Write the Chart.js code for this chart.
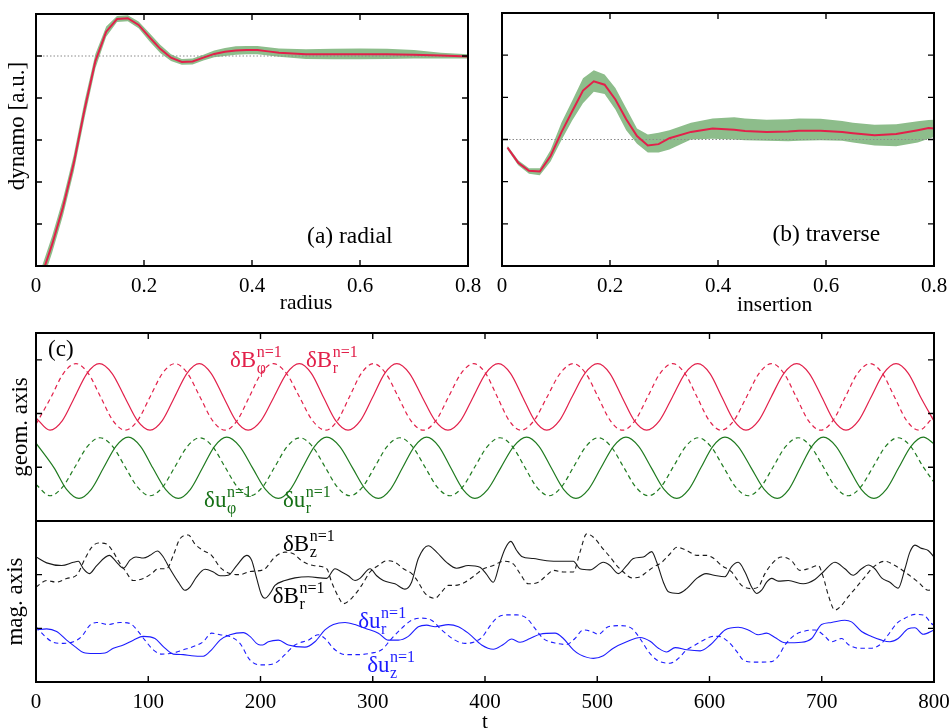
<!DOCTYPE html>
<html><head><meta charset="utf-8">
<script src="https://cdn.jsdelivr.net/npm/chart.js@4.4.1/dist/chart.umd.min.js"></script>
<style>
html,body{margin:0;padding:0;background:#fff;}
#wrap{position:relative;width:951px;height:728px;overflow:hidden;background:#fff;}
canvas{position:absolute;}
</style></head><body>
<div id="wrap">
<canvas id="cA" width="500" height="320" style="left:0;top:0"></canvas>
<canvas id="cB" width="471" height="320" style="left:480px;top:0"></canvas>
<canvas id="cC" width="951" height="408" style="left:0;top:320px"></canvas>
</div>
<script>
// ---------------- data: panel (a) radial ----------------
const radA   = [0.01,0.03,0.05,0.07,0.09,0.11,0.13,0.15,0.17,0.19,0.21,0.23,0.25,0.27,0.29,0.31,0.33,0.35,0.37,0.39,0.41,0.43,0.45,0.50,0.55,0.60,0.65,0.70,0.75,0.80];
const dynA   = [-0.25,0.52,1.40,2.45,3.73,4.88,5.58,5.88,5.90,5.74,5.45,5.17,4.96,4.86,4.87,4.96,5.05,5.10,5.13,5.14,5.14,5.11,5.08,5.04,5.04,5.04,5.04,5.03,5.01,4.99];
const dynAHi = [-0.05,0.72,1.60,2.65,3.93,5.05,5.70,5.95,5.97,5.82,5.55,5.27,5.04,4.93,4.94,5.03,5.13,5.19,5.23,5.24,5.24,5.21,5.18,5.16,5.17,5.18,5.17,5.14,5.08,5.04];
const dynALo = [-0.45,0.32,1.20,2.25,3.53,4.71,5.46,5.81,5.83,5.66,5.35,5.07,4.88,4.79,4.80,4.89,4.97,5.00,5.03,5.04,5.04,5.01,4.98,4.93,4.92,4.92,4.93,4.94,4.94,4.94];
const refXA = [0, 0.8];
const refYA = [5, 5];

// ---------------- data: panel (b) traverse ----------------
const radB   = [0.01,0.03,0.05,0.07,0.09,0.11,0.13,0.15,0.17,0.19,0.21,0.23,0.25,0.27,0.29,0.31,0.35,0.39,0.43,0.45,0.49,0.53,0.55,0.59,0.63,0.65,0.69,0.73,0.77,0.79,0.80];
const dynB   = [2.81,2.45,2.26,2.24,2.61,3.17,3.67,4.16,4.38,4.30,3.95,3.48,3.08,2.86,2.89,3.03,3.18,3.26,3.23,3.20,3.18,3.19,3.21,3.21,3.18,3.15,3.10,3.13,3.22,3.27,3.26];
const dynBHi = [2.86,2.51,2.32,2.32,2.75,3.40,3.92,4.45,4.64,4.54,4.22,3.74,3.26,3.12,3.16,3.22,3.40,3.50,3.53,3.50,3.47,3.48,3.50,3.49,3.44,3.40,3.35,3.36,3.43,3.46,3.47];
const dynBLo = [2.76,2.39,2.19,2.15,2.48,2.98,3.45,3.86,4.13,4.08,3.71,3.22,2.90,2.69,2.69,2.76,3.00,3.02,3.00,2.98,2.97,2.96,2.97,2.98,2.97,2.93,2.86,2.84,2.93,3.02,3.06];
const refXB = [0, 0.8];
const refYB = [3, 3];

// ---------------- data: panel (c) geom. axis ----------------
const tBr = [0,12.5,23.5,34.5,45.5,56.4,67.7,79,90.3,101.6,112.5,123.5,134.5,145.5,156,167,178,189,200.5,212,223.3,234.6,245.3,256,267,278,289,300,310.7,321.4,332.7,344,355.5,367,378.3,389.5,400.7,411.9,422.7,433.5,444.3,455,466.3,477.5,489,500.4,511.2,522,533,544,555.5,567,578.3,589.5,600.3,611,621.8,632.5,643.8,655,666.3,677.7,688.8,700,710.8,721.6,732.8,744,755.1,766.2,777.1,788,800];
const vBr = [1.92,
 1.69,1.87,2.31,2.75,2.93,2.75,2.31,1.87, 1.69,1.87,2.31,2.75,2.93,2.75,2.31,1.87,
 1.69,1.87,2.31,2.75,2.93,2.75,2.31,1.87, 1.69,1.87,2.31,2.75,2.93,2.75,2.31,1.87,
 1.69,1.87,2.31,2.75,2.93,2.75,2.31,1.87, 1.69,1.87,2.31,2.75,2.93,2.75,2.31,1.87,
 1.69,1.87,2.31,2.75,2.93,2.75,2.31,1.87, 1.69,1.87,2.31,2.75,2.93,2.75,2.31,1.87,
 1.69,1.87,2.31,2.75,2.93,2.75,2.31, 1.86];
const tBphi = [0,13.5,24.5,35.6,46.5,57.5,68.5,79.5,90.5,101.6,112.7,123.8,134.9,146.1,157.3,168.5,179.2,190,200.7,211.4,223,234.7,246.3,258,268.6,279.2,289.9,300.5,311.6,322.7,333.9,345,356.3,367.5,378.8,390,400.5,411,421.5,432,443.7,455.3,467,478.7,489.7,500.7,511.6,522.5,533.7,544.9,556,567.2,578,588.9,599.7,610.5,621.7,633,644.2,655.4,666.3,677.2,688.1,699,710,721,732,743,753.9,764.8,775.6,786.5,800];
const vBphi = [1.80,
 2.31,2.75,2.93,2.75,2.31,1.87,1.69,1.87, 2.31,2.75,2.93,2.75,2.31,1.87,1.69,1.87,
 2.31,2.75,2.93,2.75,2.31,1.87,1.69,1.87, 2.31,2.75,2.93,2.75,2.31,1.87,1.69,1.87,
 2.31,2.75,2.93,2.75,2.31,1.87,1.69,1.87, 2.31,2.75,2.93,2.75,2.31,1.87,1.69,1.87,
 2.31,2.75,2.93,2.75,2.31,1.87,1.69,1.87, 2.31,2.75,2.93,2.75,2.31,1.87,1.69,1.87,
 2.31,2.75,2.93,2.75,2.31,1.87,1.69, 1.95];
const tUr = [0,16.1,27.2,38.3,49.3,60.2,71.2,82.2,93.1,104,115.4,126.8,137.6,148.4,159.1,169.9,181.4,192.9,204.4,215.9,226.7,237.4,248.2,259,270.5,282,293.5,305,315.8,326.5,337.3,348,358.8,369.5,380.3,391,402.5,414,425.6,437.1,448.1,459,470,481,492.2,503.3,514.5,525.6,536.9,548.2,559.5,570.8,581.6,592.3,603,613.8,625.4,637.1,648.7,660.4,670.7,680.9,691.2,701.4,712.7,724,735.2,746.5,757.5,768.5,779.5,790.5,800];
const vUr = [1.45,0.99,0.59,
 0.42,0.59,0.99,1.39,1.56,1.39,0.99,0.59, 0.42,0.59,0.99,1.39,1.56,1.39,0.99,0.59,
 0.42,0.59,0.99,1.39,1.56,1.39,0.99,0.59, 0.42,0.59,0.99,1.39,1.56,1.39,0.99,0.59,
 0.42,0.59,0.99,1.39,1.56,1.39,0.99,0.59, 0.42,0.59,0.99,1.39,1.56,1.39,0.99,0.59,
 0.42,0.59,0.99,1.39,1.56,1.39,0.99,0.59, 0.42,0.59,0.99,1.39,1.56,1.39,0.99,0.59,
 0.42,0.59,0.99,1.39,1.56, 1.44];
const tUphi = [0,12.5,23.6,34.8,45.9,57,68.2,79.3,90.5,101.6,112.7,123.8,134.9,146,157.2,168.3,179.5,190.6,201.7,212.8,223.9,235,246.2,257.4,268.5,279.7,290.8,301.9,312.9,324,335.2,346.4,357.5,368.7,379.9,391,402.2,413.4,424.3,435.2,446.1,457,468,479,490,501,512.1,523.3,534.4,545.5,556.6,567.8,578.9,590,601.1,612.3,623.4,634.5,645.6,656.8,667.9,679,690.1,701.3,712.4,723.5,734.6,745.8,756.9,768,779.1,790.3,800];
const vUphi = [0.68,
 0.47,0.63,1.01,1.39,1.55,1.39,1.01,0.63, 0.47,0.63,1.01,1.39,1.55,1.39,1.01,0.63,
 0.47,0.63,1.01,1.39,1.55,1.39,1.01,0.63, 0.47,0.63,1.01,1.39,1.55,1.39,1.01,0.63,
 0.47,0.63,1.01,1.39,1.55,1.39,1.01,0.63, 0.47,0.63,1.01,1.39,1.55,1.39,1.01,0.63,
 0.47,0.63,1.01,1.39,1.55,1.39,1.01,0.63, 0.47,0.63,1.01,1.39,1.55,1.39,1.01,0.63,
 0.47,0.63,1.01,1.39,1.55,1.39,1.01, 0.72];

// ---------------- data: panel (c) mag. axis ----------------
const tBrM = [0,9.5,22.9,33.3,37.7,42.2,47.5,54.1,65.3,71.9,77.8,83.7,89.1,95.6,101.6,108.1,113.4,119.3,126.8,132.7,137.2,143.1,150.6,158,163.9,171.3,178.8,187.7,192.1,196.6,201,204,208.5,212.9,221.8,230.7,242.6,258.9,266.4,272.3,278.2,284.2,288.6,297.6,303.5,309.4,319.8,328.7,334.6,340.6,349.5,356.9,365.8,374.7,385.1,395.5,400.9,407.4,413.4,417.8,422.9,428.2,432.7,443.1,455,469.8,478.7,484.6,493.5,505.4,511.4,518.8,526.2,532.2,541.1,548.5,553,558.9,563.4,572.3,579.7,588.6,597,604,613.8,619.7,625.6,631.6,637.5,642,646.4,650.9,655.3,661.3,670.2,683.5,693.9,701.3,711.7,720.6,728,735.5,741.4,747.3,753.3,760.7,768.1,774.1,778.5,783,788.9,794.8,800];
const vBrM = [2.33,2.22,2.17,2.23,2.25,2.11,2.02,2.17,2.36,2.23,2.12,2.27,2.33,2.31,2.36,2.44,2.33,2.11,1.86,1.71,1.77,1.96,2.10,2.05,1.98,1.99,2.17,2.36,2.27,1.93,1.62,1.56,1.65,1.80,1.89,1.94,1.96,1.93,2.11,2.05,1.98,1.89,1.93,2.11,1.98,1.89,1.83,1.73,1.86,2.30,2.54,2.42,2.23,2.12,2.17,2.14,2.02,1.86,2.23,2.48,2.62,2.45,2.34,2.30,2.26,2.25,2.25,2.11,2.09,2.23,2.17,2.02,2.17,2.30,2.33,2.43,2.23,1.86,1.68,1.65,1.74,1.93,2.02,1.99,1.96,2.15,2.23,2.05,1.77,1.65,1.71,1.86,1.93,1.88,1.89,1.83,1.91,2.05,2.23,2.11,1.99,2.11,2.18,2.11,1.94,1.86,1.75,2.11,2.42,2.55,2.49,2.45,2.33];
const tBzM = [0,9.5,18.4,27.3,36.2,43.7,49.6,55.5,62.9,68.9,73.3,79.3,86.7,95.6,103,108.9,116.4,122.3,128.3,135.7,141.6,149,156.4,163.9,172.8,181.7,190.6,202.5,212.9,221.8,229.3,236.7,247.1,259,263.4,269.3,273.8,281.2,290.1,297.6,305,312.4,319.8,327.3,334.7,340.6,346.6,355.5,361.4,367.4,373.3,382.2,391.1,398,407.4,416.3,425.2,431.2,438.6,447.5,455,460.9,469.8,478.7,484.6,490.6,498,504,511.4,517.4,523.3,530.7,538.2,544.1,550.1,557.5,564.9,570.9,579.8,588.7,597.6,604,610.8,619.7,628.6,637.5,643.4,649.4,656.8,664.2,673.1,680.5,687.9,696.9,701.3,705.8,711.7,717.7,723.6,731,738.5,745.9,756.3,765.2,774.1,786,794.9,800];
const vBzM = [1.77,1.89,1.86,1.93,1.99,2.30,2.51,2.59,2.57,2.42,2.26,2.08,1.89,1.93,2.02,2.11,2.11,2.36,2.67,2.74,2.57,2.45,2.36,2.14,2.02,2.00,2.06,2.09,2.33,2.42,2.39,2.26,2.17,2.11,1.86,1.59,1.46,1.56,1.80,2.05,2.17,2.26,2.23,2.11,2.02,1.86,1.65,1.56,1.68,1.80,1.80,1.86,1.99,2.10,2.17,2.25,2.20,2.02,1.83,1.86,1.99,2.08,2.05,2.05,2.42,2.76,2.67,2.51,2.33,2.17,2.05,1.94,1.96,2.05,2.14,2.23,2.39,2.51,2.45,2.36,2.36,2.30,2.17,2.05,1.80,1.74,1.77,2.02,2.23,2.33,2.26,2.08,2.11,2.17,1.96,1.62,1.34,1.43,1.59,1.77,1.96,2.14,2.25,2.17,2.05,1.86,1.71,1.72];
const tUrM = [0,9.5,18.4,27.3,34.7,42.2,51.1,61.5,68.9,77.8,86.7,95.6,106,113.4,122.3,131.2,138.6,149,156.4,163.9,172.8,184.7,190.6,198,202,207,215.9,224.8,239.6,248.5,257.4,264.9,275.3,284.2,293.1,305,313.9,322.8,331.7,340.6,348,355.5,367.4,376.3,385.1,397,407.4,416.3,423.8,431.2,440.1,449,462.4,469.8,478.7,484.6,496.5,505.4,514.3,526.2,538.2,547.1,554.5,561.9,569.4,579.8,591.7,600.6,605,613.8,625.6,634.5,643.4,650.9,658.3,667.2,682,691,699.8,708.7,720.6,726.5,735.5,744.4,753.3,760.7,768.1,777,783,790.4,800];
const vUrM = [0.97,0.99,0.94,0.78,0.66,0.55,0.53,0.54,0.63,0.69,0.78,0.85,0.81,0.66,0.52,0.51,0.49,0.48,0.60,0.78,0.88,0.92,0.85,0.70,0.69,0.75,0.78,0.69,0.65,0.75,0.97,1.07,1.11,1.07,1.00,0.91,0.78,0.78,0.85,1.03,1.06,1.03,1.07,1.03,0.91,0.69,0.61,0.70,0.80,0.74,0.81,0.89,0.91,0.81,0.60,0.51,0.44,0.49,0.63,0.75,0.83,0.76,0.63,0.56,0.64,0.60,0.58,0.69,0.78,0.97,1.02,0.97,0.88,0.91,0.83,0.73,0.74,0.81,1.07,1.11,1.15,1.12,0.94,0.85,0.78,0.75,0.81,0.99,1.01,0.89,0.97];
const tUzM = [0,8,15.4,24.2,33.3,40.7,48.1,54,64.4,74.8,83.7,91.1,97,104.5,111.9,122.3,131.2,140.1,149,156.4,163.9,172.8,181.7,190.6,199.5,204,212.9,221.8,230.7,242.6,251.5,257.4,266.4,275.3,287.2,299,307.9,316.8,325.7,334.6,343.5,352.4,361.4,373.3,382.2,391.1,398,402.9,410.3,419.2,428.2,437.1,444.5,451.9,463.8,472.7,480.1,487.5,495,500.9,509.8,520.2,530.7,538.1,545.5,553,564.9,572.3,579.7,587.2,594.6,603.5,607.9,616.8,624.2,630.1,640.5,655.4,661.3,667.2,676.2,685.1,694,701.4,708.8,717.7,723.6,732.5,744.4,753.3,759.2,766.7,774.1,783,790.4,797.8,800];
const vUzM = [1.03,0.85,0.74,0.72,0.75,0.85,1.06,1.11,1.07,1.11,1.09,0.94,0.78,0.60,0.52,0.54,0.60,0.66,0.75,0.91,0.88,0.85,0.72,0.41,0.32,0.32,0.35,0.51,0.69,0.78,0.88,0.81,0.60,0.51,0.51,0.54,0.60,0.81,1.00,1.15,1.19,1.15,0.97,0.78,0.72,0.75,0.85,1.00,1.19,1.25,1.25,1.19,1.00,0.81,0.72,0.70,0.81,0.97,0.94,0.89,1.03,1.05,1.00,0.81,0.57,0.41,0.35,0.44,0.60,0.69,0.78,0.85,0.85,0.75,0.57,0.41,0.37,0.38,0.48,0.69,0.88,0.95,0.97,0.88,0.75,0.81,0.70,0.63,0.63,0.72,0.88,1.09,1.19,1.26,1.25,1.09,1.05];

// ---------------- styles ----------------
const FONT = "'Liberation Serif', 'Times New Roman', serif";
const RED = '#e2204a', GREEN = '#1f7a1f', GREENTXT = '#167016', BLUE = '#1c1cff', BLACK = '#1a1a1a', BAND = '#8dbd8b';
Chart.defaults.font.family = FONT;
Chart.defaults.color = '#000';

function xy(xs, ys) {
  if (xs.length !== ys.length) throw new Error('length mismatch ' + xs.length + ' vs ' + ys.length);
  return xs.map((x, i) => ({ x: x, y: ys[i] }));
}

function makeFrame(dividers) {
  return {
    id: 'frame',
    afterDatasetsDraw(chart) {
      const ctx = chart.ctx, ca = chart.chartArea, L = 6;
      ctx.save();
      ctx.strokeStyle = '#000';
      ctx.lineWidth = 1.4;
      const xs = chart.scales.x;
      xs.ticks.forEach(tk => {
        const px = xs.getPixelForValue(tk.value);
        ctx.beginPath();
        ctx.moveTo(px, ca.bottom); ctx.lineTo(px, ca.bottom - L);
        ctx.moveTo(px, ca.top); ctx.lineTo(px, ca.top + L);
        ctx.stroke();
      });
      Object.values(chart.scales).filter(s => s.axis === 'y').forEach(s => {
        s.ticks.forEach(tk => {
          const py = s.getPixelForValue(tk.value);
          ctx.beginPath();
          ctx.moveTo(ca.left, py); ctx.lineTo(ca.left + L, py);
          ctx.moveTo(ca.right, py); ctx.lineTo(ca.right - L, py);
          ctx.stroke();
        });
      });
      ctx.lineWidth = 2;
      ctx.strokeRect(ca.left, ca.top, ca.right - ca.left, ca.bottom - ca.top);
      (dividers || []).forEach(id => {
        const s = chart.scales[id];
        ctx.beginPath(); ctx.moveTo(ca.left, s.bottom); ctx.lineTo(ca.right, s.bottom); ctx.stroke();
      });
      ctx.restore();
    }
  };
}

function resolve(chart, spec) {
  const k = spec[0], v = spec[1], ca = chart.chartArea;
  if (k === 'below') return ca.bottom + v;
  if (k === 'abs') return v;
  return chart.scales[k].getPixelForValue(v);
}

function makeText(items) {
  return {
    id: 'txt',
    afterDraw(chart) {
      const ctx = chart.ctx;
      ctx.save();
      items.forEach(it => {
        const px = resolve(chart, it.x), py = resolve(chart, it.y);
        ctx.fillStyle = it.color || '#000';
        ctx.textBaseline = 'alphabetic';
        if (it.kind === 'rot') {
          ctx.save();
          ctx.translate(px, py);
          ctx.rotate(-Math.PI / 2);
          ctx.textAlign = 'center';
          ctx.font = it.size + 'px ' + FONT;
          ctx.fillText(it.text, 0, 0);
          ctx.restore();
        } else if (it.kind === 'sym') {
          ctx.textAlign = 'left';
          ctx.font = '23px ' + FONT;
          ctx.fillText(it.base, px, py);
          const w = ctx.measureText(it.base).width;
          ctx.font = '16px ' + FONT;
          ctx.fillText(it.sup, px + w + 0.5, py - 10);
          ctx.fillText(it.sub, px + w + 0.5, py + 6);
        } else {
          ctx.textAlign = it.align || 'left';
          ctx.font = it.size + 'px ' + FONT;
          ctx.fillText(it.text, px, py);
        }
      });
      ctx.restore();
    }
  };
}

function xScale(min, max, step, h) {
  return {
    type: 'linear', min: min, max: max,
    afterFit: s => { s.height = h; s.paddingLeft = 0; s.paddingRight = 0; },
    ticks: { stepSize: step, padding: 8, font: { size: 21 }, color: '#000', maxRotation: 0, autoSkip: false },
    grid: { display: false, drawTicks: false }, border: { display: false }
  };
}
function yHidden(min, max, w, extra) {
  return Object.assign({
    type: 'linear', min: min, max: max,
    afterFit: s => { s.width = w; },
    ticks: { stepSize: 1, display: false },
    grid: { display: false, drawTicks: false }, border: { display: false }
  }, extra || {});
}
const baseOpts = {
  responsive: false, animation: false, events: [],
  plugins: { legend: { display: false }, tooltip: { enabled: false } }
};
const lineDs = (data, color, width, extra) => Object.assign({
  data: data, borderColor: color, borderWidth: width, pointRadius: 0, fill: false, tension: 0
}, extra || {});

// ---------------- chart (a) ----------------
// datasets are painted last-to-first: the red line (index 0) ends up on top of the band
new Chart(document.getElementById('cA'), {
  type: 'line',
  data: { datasets: [
    lineDs(xy(radA, dynA), RED, 2),
    lineDs(xy(refXA, refYA), '#8a8a8a', 1, { borderDash: [1.5, 2] }),
    lineDs(xy(radA, dynAHi), 'rgba(0,0,0,0)', 0, { backgroundColor: BAND, fill: '+1' }),
    lineDs(xy(radA, dynALo), 'rgba(0,0,0,0)', 0)
  ]},
  options: Object.assign({}, baseOpts, {
    layout: { padding: { top: 14, right: 32, left: 0, bottom: 0 } },
    scales: { x: xScale(0, 0.8, 0.2, 54), y: yHidden(0, 6, 36) }
  }),
  plugins: [makeFrame(), makeText([
    { kind: 'rot', x: ['abs', 24], y: ['y', 3.33], text: 'dynamo [a.u.]', size: 23 },
    { kind: 'text', x: ['x', 0.5], y: ['below', 43], text: 'radius', size: 21.5, align: 'center' },
    { kind: 'text', x: ['x', 0.502], y: ['y', 0.55], text: '(a) radial', size: 23.5 }
  ])]
});

// ---------------- chart (b) ----------------
new Chart(document.getElementById('cB'), {
  type: 'line',
  data: { datasets: [
    lineDs(xy(radB, dynB), RED, 2),
    lineDs(xy(refXB, refYB), '#8a8a8a', 1, { borderDash: [1.5, 2] }),
    lineDs(xy(radB, dynBHi), 'rgba(0,0,0,0)', 0, { backgroundColor: BAND, fill: '+1' }),
    lineDs(xy(radB, dynBLo), 'rgba(0,0,0,0)', 0)
  ]},
  options: Object.assign({}, baseOpts, {
    layout: { padding: { top: 13, right: 17, left: 0, bottom: 0 } },
    scales: { x: xScale(0, 0.8, 0.2, 54), y: yHidden(0, 6, 22) }
  }),
  plugins: [makeFrame(), makeText([
    { kind: 'text', x: ['x', 0.505], y: ['below', 45], text: 'insertion', size: 21.5, align: 'center' },
    { kind: 'text', x: ['x', 0.501], y: ['y', 0.59], text: '(b) traverse', size: 23.5 }
  ])]
});

// ---------------- chart (c) ----------------
const dashed = [4.5, 3.5];
const xC = xScale(0, 800, 100, 46);
xC.title = { display: true, text: 't', font: { size: 21 }, color: '#000', padding: { top: 0, bottom: -7 } };
new Chart(document.getElementById('cC'), {
  type: 'line',
  data: { datasets: [
    lineDs(xy(tBphi, vBphi), RED, 1.2, { yAxisID: 'yG', borderDash: dashed, cubicInterpolationMode: 'monotone' }),
    lineDs(xy(tBr, vBr), RED, 1.2, { yAxisID: 'yG', cubicInterpolationMode: 'monotone' }),
    lineDs(xy(tUphi, vUphi), GREEN, 1.2, { yAxisID: 'yG', borderDash: dashed, cubicInterpolationMode: 'monotone' }),
    lineDs(xy(tUr, vUr), GREEN, 1.2, { yAxisID: 'yG', cubicInterpolationMode: 'monotone' }),
    lineDs(xy(tBzM, vBzM), BLACK, 1.1, { yAxisID: 'yM', borderDash: dashed, cubicInterpolationMode: 'monotone' }),
    lineDs(xy(tBrM, vBrM), BLACK, 1.1, { yAxisID: 'yM', cubicInterpolationMode: 'monotone' }),
    lineDs(xy(tUzM, vUzM), BLUE, 1.1, { yAxisID: 'yM', borderDash: dashed, cubicInterpolationMode: 'monotone' }),
    lineDs(xy(tUrM, vUrM), BLUE, 1.1, { yAxisID: 'yM', cubicInterpolationMode: 'monotone' })
  ]},
  options: Object.assign({}, baseOpts, {
    layout: { padding: { top: 13, right: 17, left: 0, bottom: 0 } },
    scales: {
      x: xC,
      // in a stack the first listed axis is placed lowest
      yM: yHidden(0, 3, 36, { position: 'left', stack: 'c', stackWeight: 161,
        title: { display: true, text: 'mag. axis', font: { size: 23 }, color: '#000', padding: { top: 1.9, bottom: 0 } } }),
      yG: yHidden(0, 3.5, 36, { position: 'left', stack: 'c', stackWeight: 188,
        title: { display: true, text: 'geom. axis', font: { size: 23 }, color: '#000', padding: { top: 7.4, bottom: 0 } } })
    }
  }),
  plugins: [makeFrame(['yG']), makeText([
    { kind: 'text', x: ['x', 10.7], y: ['yG', 3.07], text: '(c)', size: 23 },
    { kind: 'sym', x: ['x', 172.8], y: ['yG', 2.87], base: 'δB', sub: 'φ', sup: 'n=1', color: RED },
    { kind: 'sym', x: ['x', 240.5], y: ['yG', 2.87], base: 'δB', sub: 'r', sup: 'n=1', color: RED },
    { kind: 'sym', x: ['x', 149.7], y: ['yG', 0.26], base: 'δu', sub: 'φ', sup: 'n=1', color: GREENTXT },
    { kind: 'sym', x: ['x', 220], y: ['yG', 0.26], base: 'δu', sub: 'r', sup: 'n=1', color: GREENTXT },
    { kind: 'sym', x: ['x', 220], y: ['yM', 2.44], base: 'δB', sub: 'z', sup: 'n=1', color: '#000' },
    { kind: 'sym', x: ['x', 210.9], y: ['yM', 1.47], base: 'δB', sub: 'r', sup: 'n=1', color: '#000' },
    { kind: 'sym', x: ['x', 287.1], y: ['yM', 1.0], base: 'δu', sub: 'r', sup: 'n=1', color: BLUE },
    { kind: 'sym', x: ['x', 295.1], y: ['yM', 0.19], base: 'δu', sub: 'z', sup: 'n=1', color: BLUE }
  ])]
});
</script>
</body></html>
